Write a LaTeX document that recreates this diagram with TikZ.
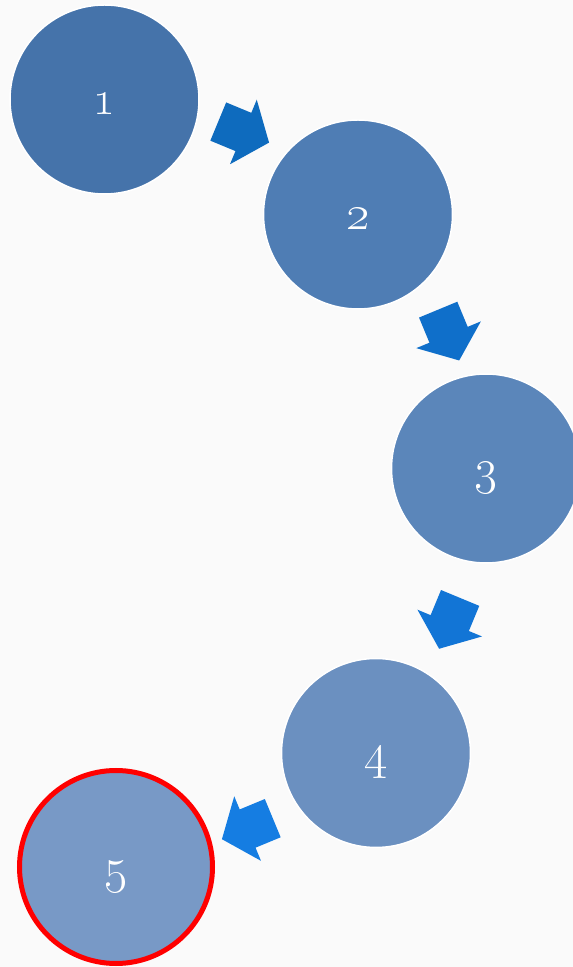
\documentclass[tikz,border=0pt]{standalone}
\usepackage{fix-cm}
\usepackage{tikz}
\usepackage{xcolor}
\usetikzlibrary{positioning, arrows.meta, shapes.arrows}

\definecolor{bgcol}{RGB}{250,250,250}
\definecolor{stageA}{RGB}{69,115,170}
\definecolor{stageB}{RGB}{79,125,180}
\definecolor{stageC}{RGB}{91,134,186}
\definecolor{stageD}{RGB}{107,144,192}
\definecolor{stageE}{RGB}{120,153,198}
\definecolor{arrowA}{RGB}{14,107,190}
\definecolor{arrowB}{RGB}{15,111,202}
\definecolor{arrowC}{RGB}{18,117,214}
\definecolor{arrowD}{RGB}{21,125,226}

\begin{document}
\begin{tikzpicture}[x=1pt, y=1pt,
    stage/.style={circle, draw=white, line width=1.5pt, minimum size=189pt, inner sep=0pt, text=white, font=\fontsize{50}{50}\selectfont, text height=31pt, text depth=0pt},
    blockarrow/.style={single arrow, draw=none, minimum height=55pt, inner xsep=0pt, inner ysep=20.5pt, single arrow head extend=14.25pt, single arrow tip angle=103, anchor=tip}]
        \useasboundingbox[fill=bgcol] (0,0) rectangle (573,967);
        % Stages as circles
        \node[stage, fill=stageA] (first) at (104.5,867.5) {\oldstylenums{1}};
        \node[stage, fill=stageB] (second) at (358,752.5) {\oldstylenums{2}};
        \node[stage, fill=stageC] (third) at (486,498.5) {\oldstylenums{3}};
        \node[stage, fill=stageD] (fourth) at (376,214) {\oldstylenums{4}};
        \node[stage, fill=stageE, draw=red, line width=5pt, minimum size=193pt] (fifth) at (116,100) {\oldstylenums{5}};
        % Block arrows between stages
        \node[blockarrow, fill=arrowA, rotate=-22.5] (arrowAB) at (269.3,824.3) {};
        \node[blockarrow, fill=arrowB, rotate=-67.5] (arrowBC) at (459.3,606.3) {};
        \node[blockarrow, fill=arrowC, rotate=-112.5] (arrowCD) at (439,318) {};
        \node[blockarrow, fill=arrowD, rotate=-157.5] (arrowDE) at (221.7,127.7) {};
    \end{tikzpicture}
\end{document}
